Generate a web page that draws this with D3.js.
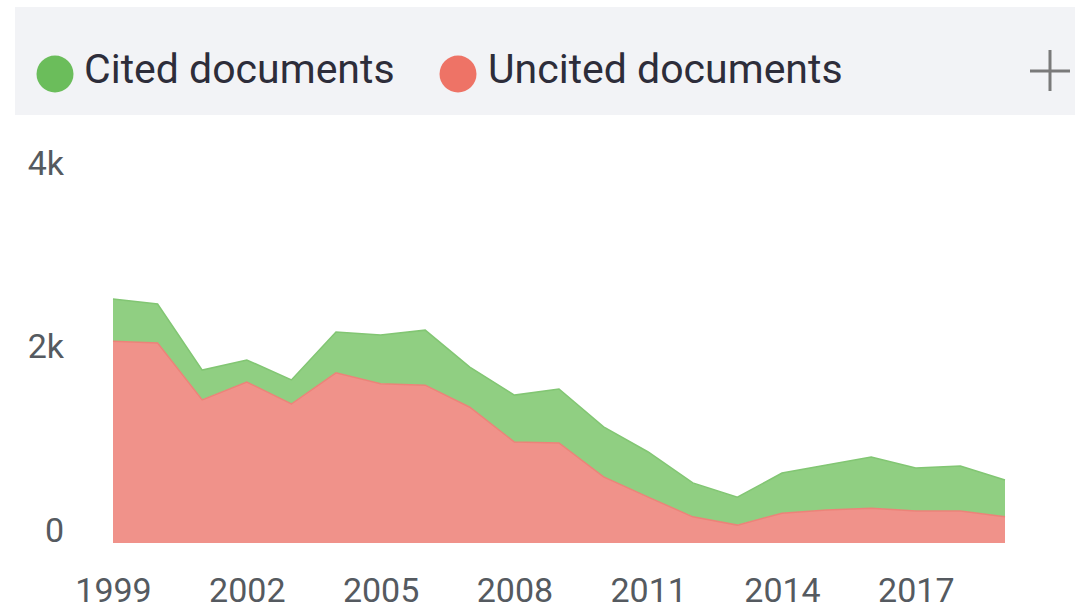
<!DOCTYPE html>
<html>
<head>
<meta charset="utf-8">
<script src="https://cdn.jsdelivr.net/npm/d3@7/dist/d3.min.js"></script>
<style>
  html, body { margin: 0; padding: 0; background: #ffffff; }
  svg { display: block; font-family: Roboto, "Noto Sans", sans-serif; }
</style>
</head>
<body>
<svg id="chart" width="1075" height="610"></svg>
<script>
// ---- data ----
const years = [1999, 2000, 2001, 2002, 2003, 2004, 2005, 2006, 2007, 2008, 2009,
               2010, 2011, 2012, 2013, 2014, 2015, 2016, 2017, 2018, 2019];
const uncited = [2200, 2180, 1560, 1755, 1515, 1855, 1735, 1720, 1480, 1100, 1090,
                 720, 500, 285, 195, 325, 360, 380, 350, 350, 285];
const cited = [460, 425, 325, 240, 262, 445, 532, 600, 438, 512, 588,
               545, 492, 370, 305, 438, 490, 556, 468, 490, 402];
const seriesNames = ["Cited documents", "Uncited documents"];
const xTickYears = [1999, 2002, 2005, 2008, 2011, 2014, 2017];
const yTicks = [0, 2000, 4000];

const fillColors = { "Cited documents": "#90cf82", "Uncited documents": "#f0928a" };
const edgeColors = { "Cited documents": "#82c673", "Uncited documents": "#ec8379" };
const dotColors = { "Cited documents": "#6bbd5b", "Uncited documents": "#ee7366" };

const svg = d3.select("#chart");

// ---- legend bar ----
svg.append("rect").attr("x", 15).attr("y", 7).attr("width", 1060).attr("height", 108)
  .attr("fill", "#f2f3f6");

const legendItems = [
  { name: seriesNames[0], cx: 55, tx: 84 },
  { name: seriesNames[1], cx: 458, tx: 488 }
];
legendItems.forEach(d => {
  svg.append("circle").attr("cx", d.cx).attr("cy", 74).attr("r", 18.5)
    .attr("fill", dotColors[d.name]);
  svg.append("text").attr("x", d.tx).attr("y", 83)
    .attr("font-size", 41).attr("fill", "#2d2d3a")
    .text(d.name);
});
// plus icon
svg.append("line").attr("x1", 1030).attr("x2", 1070).attr("y1", 71).attr("y2", 71)
  .attr("stroke", "#7a7a7a").attr("stroke-width", 3);
svg.append("line").attr("x1", 1050).attr("x2", 1050).attr("y1", 50).attr("y2", 91)
  .attr("stroke", "#7a7a7a").attr("stroke-width", 3);

// ---- scales ----
const x = d3.scaleLinear().domain([1999, 2019]).range([113, 1005]);
const y = d3.scaleLinear().domain([0, 4000]).range([543, 176]);

const table = years.map((yr, i) => ({
  year: yr,
  "Uncited documents": uncited[i],
  "Cited documents": cited[i]
}));
const stack = d3.stack().keys(["Uncited documents", "Cited documents"]);
const layers = stack(table);

const area = d3.area()
  .x(d => x(d.data.year))
  .y0(d => y(d[0]))
  .y1(d => y(d[1]));
const topLine = d3.line()
  .x(d => x(d.data.year))
  .y(d => y(d[1]));

svg.append("g").selectAll("path.area").data(layers).join("path")
  .attr("class", "area")
  .attr("d", area)
  .attr("fill", d => fillColors[d.key]);
svg.append("g").selectAll("path.edge").data(layers).join("path")
  .attr("class", "edge")
  .attr("d", topLine)
  .attr("fill", "none")
  .attr("stroke", d => edgeColors[d.key])
  .attr("stroke-width", 1.5);

// ---- axes ----
const yAxis = d3.axisLeft(y).tickValues(yTicks)
  .tickFormat(v => v === 0 ? "0" : (v / 1000) + "k")
  .tickSize(0).tickPadding(0);
const gy = svg.append("g").attr("transform", "translate(64,0)").call(yAxis);
gy.select(".domain").remove();
gy.selectAll("text").attr("font-size", 34).attr("fill", "#555a60")
  .attr("font-family", "Roboto, sans-serif")
  .attr("dy", "-0.05em");

const xAxis = d3.axisBottom(x).tickValues(xTickYears)
  .tickFormat(d3.format("d")).tickSize(0).tickPadding(0);
const gx = svg.append("g").attr("transform", "translate(0,602)").call(xAxis);
gx.select(".domain").remove();
gx.selectAll("text").attr("font-size", 34).attr("fill", "#555a60")
  .attr("font-family", "Roboto, sans-serif")
  .attr("dy", 0);
</script>
</body>
</html>
